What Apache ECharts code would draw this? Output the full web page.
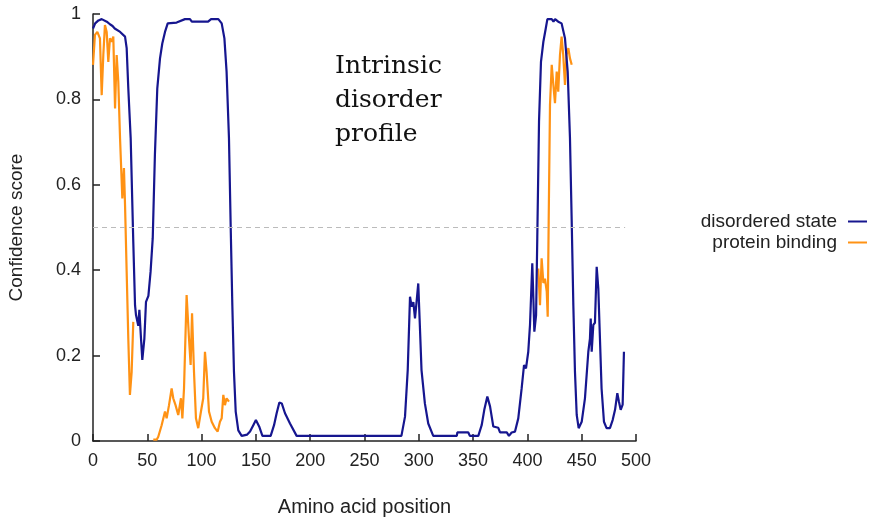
<!DOCTYPE html>
<html>
<head>
<meta charset="utf-8">
<script src="https://cdn.jsdelivr.net/npm/echarts@6/dist/echarts.min.js"></script>
<style>
html,body{margin:0;padding:0;background:#fff;}
#chart{width:875px;height:519px;}
</style>
</head>
<body>
<div id="chart"></div>
<script>
// ---- data ----
const disorderPos = [0,2,5,8,12.7,15.6,18,20,25,29.5,31,32.5,34.7,37,38.7,39.6,41.7,42.7,44.2,45.4,47.3,48.8,51,53,55,57,59.2,61.7,63.8,66.3,68.8,77,84.7,89.3,91,106,108.7,115.4,118.5,121,123,125.2,126.8,128.3,129.8,131.4,133.8,136.9,142,144.6,147.6,150,153,156,163.6,166.7,169.1,171.6,173.8,176.8,181.4,187.5,284,287.3,289.8,291.9,293.4,295,296.5,298,299.5,301,302.5,305.6,308.7,313.3,335,335.5,345.6,347,354.8,357.9,360.3,363.1,365.6,368.6,373.2,374.8,381,383,385.5,388.6,391.6,394.7,396.9,398.7,400.8,402.4,404.5,405.5,406.4,408,409.1,410.7,412.5,414.7,416.9,418.4,422.4,424,425.5,428.4,431.5,434.6,437.1,439.2,440.8,442.3,443.8,445.4,447.2,450,453,456.1,457.6,458.3,459.2,460.7,462.2,463.8,465.3,466.8,468.3,470.5,472.9,476,478.5,480.7,482.8,484.3,485.9,487.7,488.9];
const disorderScore = [0.966,0.978,0.985,0.988,0.982,0.976,0.972,0.966,0.958,0.947,0.92,0.826,0.709,0.475,0.318,0.295,0.27,0.307,0.24,0.19,0.24,0.326,0.34,0.396,0.475,0.67,0.826,0.896,0.931,0.958,0.978,0.98,0.988,0.988,0.982,0.982,0.988,0.988,0.978,0.943,0.865,0.709,0.5,0.318,0.162,0.069,0.025,0.012,0.015,0.022,0.037,0.049,0.034,0.012,0.012,0.037,0.065,0.09,0.088,0.065,0.041,0.012,0.012,0.057,0.166,0.338,0.315,0.325,0.287,0.327,0.369,0.268,0.166,0.088,0.041,0.012,0.012,0.02,0.02,0.012,0.012,0.037,0.073,0.104,0.081,0.034,0.031,0.02,0.02,0.012,0.02,0.022,0.053,0.123,0.178,0.17,0.209,0.272,0.416,0.334,0.256,0.295,0.475,0.748,0.888,0.935,0.966,0.988,0.988,0.982,0.988,0.982,0.978,0.943,0.865,0.709,0.514,0.318,0.162,0.061,0.03,0.045,0.1,0.209,0.24,0.287,0.209,0.272,0.277,0.408,0.357,0.24,0.123,0.045,0.03,0.03,0.049,0.073,0.112,0.092,0.073,0.085,0.209];

const bindingPos = [0,1.8,4,6.4,8,9.5,11,12.6,14.1,15.6,17.2,18.7,20.3,21.8,23.3,24.9,27,28.5,29.5,31,32.5,34,35.6,37.1,46,
  55.5,58.6,60.1,63.2,66.3,67.8,70,72.4,73.9,76,78.5,81,82.3,83.8,86.2,88.4,89.9,91.2,93,94.8,96.9,99.4,101.5,103.1,104.6,106.8,109.3,112.3,114.8,116.9,118.5,120,121.5,123,125.2,300,
  410,411.6,413.1,414.7,416.2,417.8,418.7,419.6,420.8,422.4,423.9,425.4,427,428.4,430,431.5,433,434.6,436,437.7,439.2,440.8];
const bindingScore = [0.881,0.951,0.958,0.943,0.81,0.904,0.974,0.958,0.888,0.943,0.935,0.947,0.779,0.904,0.841,0.709,0.568,0.639,0.553,0.396,0.24,0.108,0.162,0.279,null,
  0.003,0.003,0.01,0.037,0.069,0.053,0.084,0.123,0.1,0.084,0.061,0.1,0.053,0.123,0.342,0.24,0.178,0.299,0.162,0.053,0.03,0.069,0.1,0.209,0.162,0.069,0.045,0.03,0.022,0.045,0.053,0.108,0.084,0.1,0.092,null,
  0.404,0.318,0.428,0.37,0.38,0.35,0.291,0.514,0.787,0.881,0.834,0.791,0.865,0.818,0.904,0.947,0.904,0.834,0.904,0.92,0.896,0.881];

const thresholdValue = 0.5;
const thresholdRange = [0, 490];
const seriesNames = ['disordered state', 'protein binding'];
const titleLines = ['Intrinsic', 'disorder', 'profile'];

// ---- chart ----
const toPairs = (xs, ys) => xs.map((x, i) => [x, ys[i] === null ? '-' : ys[i]]);
const chart = echarts.init(document.getElementById('chart'), null, {renderer: 'canvas'});
const fontSans = 'Liberation Sans, Arial, sans-serif';
chart.setOption({
  animation: false,
  backgroundColor: '#ffffff',
  title: {
    text: titleLines.join('\n'),
    left: 330, top: 44,
    textStyle: {fontFamily: 'DejaVu Serif', fontSize: 25, fontWeight: 'normal', color: '#111', lineHeight: 34}
  },
  legend: {
    orient: 'vertical', right: 3, top: 207, align: 'right',
    itemWidth: 19, itemHeight: 2, itemGap: 2, icon: 'rect',
    textStyle: {fontFamily: fontSans, fontSize: 19, color: '#222', lineHeight: 19, padding: [0, 6, 0, 0]},
    data: seriesNames
  },
  grid: {left: 93, right: 239, top: 14, bottom: 78, containLabel: false, outerBoundsMode: 'none'},
  xAxis: {
    type: 'value', min: 0, max: 500, interval: 50,
    name: 'Amino acid position', nameLocation: 'middle', nameGap: 56,
    nameTextStyle: {fontFamily: fontSans, fontSize: 20, color: '#222'},
    axisLine: {show: true, onZero: false, lineStyle: {color: '#222', width: 1.5}},
    axisTick: {show: true, inside: true, length: 7, lineStyle: {color: '#222', width: 1.5}},
    axisLabel: {fontFamily: fontSans, fontSize: 18, color: '#222', margin: 11},
    splitLine: {show: false}
  },
  yAxis: {
    type: 'value', min: 0, max: 1, interval: 0.2,
    name: 'Confidence score', nameLocation: 'middle', nameGap: 67, nameRotate: 90,
    nameTextStyle: {fontFamily: fontSans, fontSize: 19, color: '#222'},
    axisLine: {show: true, lineStyle: {color: '#222', width: 1.5}},
    axisTick: {show: true, inside: true, length: 7, lineStyle: {color: '#222', width: 1.5}},
    axisLabel: {fontFamily: fontSans, fontSize: 18, color: '#222', margin: 12},
    splitLine: {show: false}
  },
  series: [
    {
      name: seriesNames[0], type: 'line', showSymbol: false, symbol: 'none',
      data: toPairs(disorderPos, disorderScore),
      lineStyle: {color: '#16168f', width: 2.2}, itemStyle: {color: '#16168f'},
      z: 3,
      markLine: {
        silent: true, symbol: 'none', label: {show: false},
        lineStyle: {color: '#bbbbbb', type: [5, 4], width: 1},
        data: [[{coord: [thresholdRange[0], thresholdValue]}, {coord: [thresholdRange[1], thresholdValue]}]]
      }
    },
    {
      name: seriesNames[1], type: 'line', showSymbol: false, symbol: 'none', connectNulls: false,
      data: toPairs(bindingPos, bindingScore),
      lineStyle: {color: '#ff9214', width: 2.2}, itemStyle: {color: '#ff9214'},
      z: 2
    }
  ]
});
</script>
</body>
</html>
